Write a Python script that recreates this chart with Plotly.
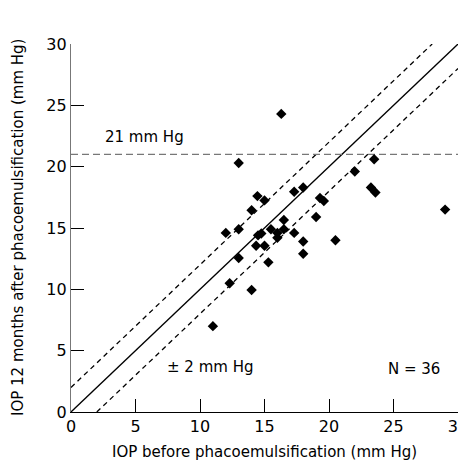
import plotly.graph_objects as go

iop_before = [16.3, 13.0, 23.5, 22.0, 23.25, 23.6, 17.3, 18.0, 14.45, 15.0, 14.0, 19.3,
              19.6, 19.0, 13.0, 12.0, 16.5, 16.5, 17.3, 15.5, 14.5, 14.75, 16.0, 16.0,
              18.0, 18.0, 14.35, 15.0, 13.0, 15.3, 12.3, 14.0, 11.0, 20.5, 29.0]
iop_after = [24.3, 20.3, 20.6, 19.6, 18.3, 17.9, 17.95, 18.3, 17.6, 17.25, 16.45, 17.45,
             17.2, 15.9, 14.9, 14.6, 15.65, 14.9, 14.6, 14.9, 14.4, 14.55, 14.6, 14.2,
             13.9, 12.9, 13.55, 13.55, 12.55, 12.2, 10.5, 9.95, 7.0, 14.0, 16.5]

line_x = [0, 30]
identity_y = [0, 30]
upper_x = [0, 28]
upper_y = [2, 30]
lower_x = [2, 30]
lower_y = [0, 28]
threshold = 21
tick_vals = [0, 5, 10, 15, 20, 25, 30]

FONT = "'DejaVu Sans', sans-serif"

fig = go.Figure()
fig.add_trace(go.Scatter(x=line_x, y=identity_y, mode="lines",
                         line=dict(color="black", width=1.3), hoverinfo="skip"))
fig.add_trace(go.Scatter(x=upper_x, y=upper_y, mode="lines",
                         line=dict(color="black", width=1.3, dash="5px,4px"), hoverinfo="skip"))
fig.add_trace(go.Scatter(x=lower_x, y=lower_y, mode="lines",
                         line=dict(color="black", width=1.3, dash="5px,4px"), hoverinfo="skip"))
fig.add_trace(go.Scatter(x=line_x, y=[threshold, threshold], mode="lines",
                         line=dict(color="#777777", width=1.3, dash="7px,4px"), hoverinfo="skip"))
fig.add_trace(go.Scatter(x=iop_before, y=iop_after, mode="markers",
                         marker=dict(symbol="diamond", size=8, color="black")))

fig.add_annotation(x=2.5, y=22.4, text="21 mm Hg", showarrow=False, xanchor="left",
                   yanchor="middle", font=dict(size=15, color="black", family=FONT))
fig.add_annotation(x=7.3, y=3.7, text="± 2 mm Hg", showarrow=False, xanchor="left",
                   yanchor="middle", font=dict(size=15, color="black", family=FONT))
fig.add_annotation(x=24.4, y=3.5, text="N = 36", showarrow=False, xanchor="left",
                   yanchor="middle", font=dict(size=15, color="black", family=FONT))

fig.add_annotation(xref="paper", yref="paper", x=0.5, y=0, yshift=-40,
                   text="IOP before phacoemulsification (mm Hg)", showarrow=False,
                   xanchor="center", yanchor="middle",
                   font=dict(size=15, color="black", family=FONT))
fig.add_annotation(xref="paper", yref="paper", x=0, y=0.5, xshift=-53,
                   text="IOP 12 months after phacoemulsification (mm Hg)", showarrow=False,
                   textangle=-90, xanchor="center", yanchor="middle",
                   font=dict(size=15, color="black", family=FONT))

# page body has an 8px margin; size the figure to the visible area
fig.update_layout(
    width=458, height=457,
    margin=dict(l=63, r=8, t=36, b=53),
    plot_bgcolor="white", paper_bgcolor="white",
    showlegend=False,
    font=dict(family=FONT, size=16, color="black"),
)
fig.update_xaxes(range=[0, 30], tickvals=tick_vals, ticks="inside", ticklen=13,
                 tickcolor="black", showline=True, linecolor="black", linewidth=1.3,
                 showgrid=False, zeroline=False, automargin=False,
                 ticklabeloverflow="allow", tickfont=dict(size=16))
fig.update_yaxes(range=[0, 30], tickvals=tick_vals, ticks="inside", ticklen=13,
                 tickcolor="black", showline=True, linecolor="#777777", linewidth=1.3,
                 showgrid=False, zeroline=False, automargin=False,
                 ticklabeloverflow="allow", tickfont=dict(size=16))

fig.write_html("out.html")
